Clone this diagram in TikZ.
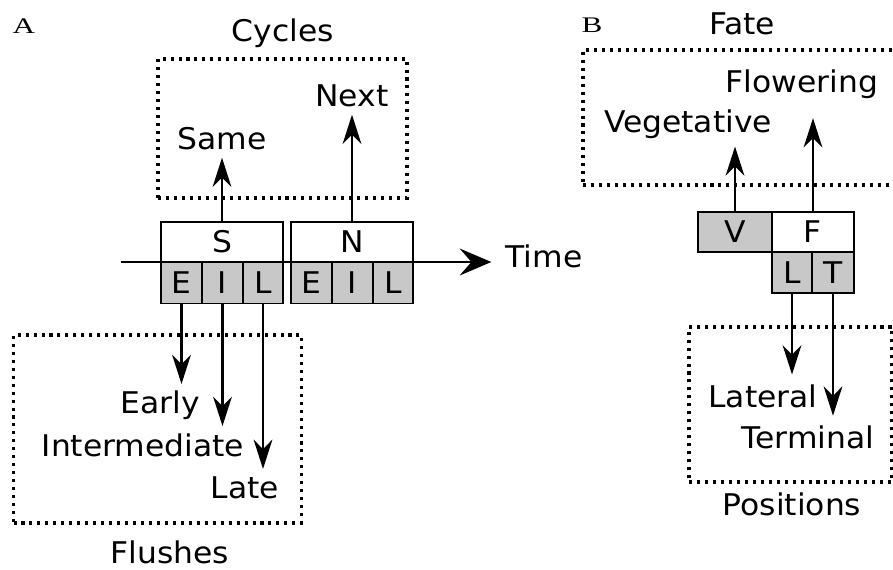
\documentclass[tikz,border=0pt]{standalone}
\usepackage{fontspec}
\setmainfont[FakeStretch=1.05]{DejaVu Sans}
\newfontfamily\panelfont{Liberation Serif}
\usetikzlibrary{arrows.meta}
\definecolor{cellgray}{RGB}{200,200,200}
\def\px{0.03cm}
\newcommand{\panelsize}{\panelfont\fontsize{19pt}{22pt}\selectfont}
\tikzset{
	every node/.append style={font=\fontsize{25.5}{30}\selectfont},
	lbl/.style={anchor=base, inner sep=0},
	panel/.style={anchor=base, inner sep=0, font=\panelsize},
	wbox/.style={draw, fill=white, line width=1.1pt, minimum height=40*\px, inner sep=0},
	cell/.style={draw, fill=cellgray, line width=1.1pt, minimum height=41*\px, inner sep=0},
	group/.style={draw, line width=2.6pt, dash pattern=on 2.6pt off 4.2pt, inner sep=0},
	arr/.style={-{Stealth[length=25pt, width=16pt, inset=8pt]}, line width=1.8pt, shorten >=6pt},
	timearr/.style={-{Stealth[length=27pt, width=23pt, inset=10pt]}, line width=1.9pt, shorten >=12pt}
}
\begin{document}
\begin{tikzpicture}[x=\px, y=-\px]
	\useasboundingbox (0,0) rectangle (893,570);
	\node[panel] at (24,34) (pa) {\scalebox{1.4}[1]{A}};
	\node[panel] at (592,33) (pb) {\scalebox{1.4}[1]{B}};
	\node[group, minimum width=249*\px, minimum height=139*\px] at (282.5,128.5) (cycbox) {};
	\node[group, minimum width=288*\px, minimum height=188*\px] at (157.5,429) (flubox) {};
	\node[group, minimum width=318*\px, minimum height=135*\px] at (742,117.5) (fatebox) {};
	\node[group, minimum width=203*\px, minimum height=155*\px] at (790.5,404.5) (posbox) {};
	\node[lbl] at (283,42) (cycles) {Cycles};
	\node[lbl] at (170,563) (flushes) {Flushes};
	\node[lbl] at (742,35) (fate) {Fate};
	\node[lbl] at (792,515) (positions) {Positions};
	\node[lbl] at (222,150) (same) {Same};
	\node[lbl] at (352,107) (next) {Next};
	\node[lbl] at (160,414) (early) {Early};
	\node[lbl] at (143,456) (inter) {Intermediate};
	\node[lbl] at (245,498) (late) {Late};
	\node[lbl] at (688,133) (veg) {Vegetative};
	\node[lbl] at (802,93) (flow) {Flowering};
	\node[lbl] at (763,408) (lat) {Lateral};
	\node[lbl] at (808,448) (term) {Terminal};
	\node[lbl] at (544,268) (time) {Time};
	\coordinate (t0) at (121,262);
	\draw[timearr] (t0) -- (time.west |- t0);
	\node[wbox, minimum width=122*\px] at (222,242) (sbox) {S};
	\node[cell, minimum width=41*\px] at (181.5,283) (se) {E};
	\node[cell, minimum width=41*\px] at (222.5,283) (si) {I};
	\node[cell, minimum width=40*\px] at (263,283) (sl) {L};
	\node[wbox, minimum width=122*\px] at (352,242) (nbox) {N};
	\node[cell, minimum width=41*\px] at (311.5,283) (ne) {E};
	\node[cell, minimum width=41*\px] at (352.5,283) (ni) {I};
	\node[cell, minimum width=40*\px] at (393,283) (nl) {L};
	\node[cell, minimum width=74*\px, minimum height=40*\px] at (735,232) (vbox) {V};
	\node[wbox, minimum width=82*\px] at (813,232) (fbox) {F};
	\node[cell, minimum width=40*\px] at (792,272.5) (pl) {L};
	\node[cell, minimum width=42*\px] at (833,272.5) (pt) {T};
	\path (sbox.north) edge[arr] (same.south)
	(nbox.north) edge[arr] (next.south)
	(vbox.north) edge[arr] (vbox.north |- veg.south)
	(fbox.north) edge[arr, shorten >=16pt] (fbox.north |- flow.south)
	(se.south) edge[arr] (se.south |- early.north)
	(si.south) edge[arr] (si.south |- inter.north)
	(sl.south) edge[arr] (sl.south |- late.north)
	(pl.south) edge[arr, shorten >=9pt] (pl.south |- lat.north)
	(pt.south) edge[arr, shorten >=8pt] (pt.south |- term.north);
\end{tikzpicture}
\end{document}
